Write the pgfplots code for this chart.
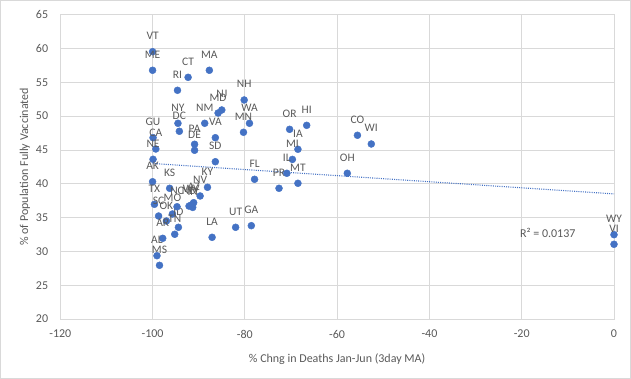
\documentclass[border=0pt]{standalone}
\usepackage{pgfplots}
\pgfplotsset{compat=1.18}
\usepackage{fontspec}
\setmainfont{Carlito}
\definecolor{ptblue}{HTML}{4472C4}
\definecolor{txtgray}{HTML}{595959}
\definecolor{gridgray}{HTML}{D9D9D9}
\begin{document}
\begin{tikzpicture}[x=1pt,y=1pt]
\path[use as bounding box] (0,0) rectangle (631,379);
\draw[gridgray] (0.5,0.5) rectangle (630.5,378.5);
\begin{axis}[
  at={(60.3pt,60pt)}, anchor=south west,
  scale only axis, width=553.7pt, height=304.3pt,
  xmin=-120, xmax=0, ymin=20, ymax=65,
  xtick={-120,-100,-80,-60,-40,-20,0},
  ytick={20,25,30,35,40,45,50,55,60,65},
  major tick length=0pt,
  grid=major,
  major grid style={gridgray, line width=0.75pt},
  axis line style={gridgray, line width=0.75pt},
  /pgf/number format/assume math mode=true,
  tick label style={font=\fontsize{12}{14}\selectfont, text=txtgray},
  yticklabel style={inner sep=0pt, xshift=-12pt},
  xticklabel style={inner sep=0pt, yshift=-11pt},
  xlabel={\% Chng in Deaths Jan-Jun (3day MA)},
  ylabel={\% of Population Fully Vaccinated},
  label style={font=\fontsize{12}{14}\selectfont, text=txtgray},
  xlabel style={at={(axis description cs:0.5,-0.1315)}, anchor=center},
  ylabel style={at={(axis description cs:-0.0638,0.5)}, anchor=center},
  clip=false,
]
\addplot[only marks, mark=*, mark size=3.5pt, mark options={draw=ptblue, fill=ptblue},
  point meta=explicit symbolic,
  nodes near coords,
  every node near coord/.style={anchor=base, yshift=12pt, inner sep=0pt, font=\fontsize{11.5}{13}\selectfont, text=txtgray}]
table[meta=label] {
x y label
-100.0 59.53 VT
-100.0 56.78 ME
-87.7 56.78 MA
-92.3 55.74 CT
-94.6 53.82 RI
-80.15 52.39 NH
-85.0 50.91 NJ
-85.8 50.46 MD
-79.0 48.94 WA
-80.3 47.61 MN
-88.7 48.94 NM
-94.5 48.94 NY
-94.2 47.76 DC
-99.9 46.81 GU
-99.3 45.14 CA
-90.9 45.84 PA
-90.9 44.95 DE
-86.4 46.81 VA
-86.4 43.26 SD
-99.9 43.62 NE
-100.0 40.30 AK
-96.3 39.33 KS
-88.1 39.48 KY
-89.7 38.19 NV
-99.6 36.96 TX
-98.7 35.23 SC
-97.0 34.49 OK
-95.7 35.53 MO
-94.4 33.56 ID
-97.8 31.93 AR
-95.2 32.53 TN
-99.05 29.36 AL
-98.5 27.94 MS
-87.1 32.08 LA
-82.0 33.56 UT
-78.6 33.80 GA
-77.9 40.66 FL
-72.6 39.33 PR
-94.7 36.6 NC
-91.6 36.86 WV
-91.1 37.2 AZ
-91.3 36.5 IN
-92.1 36.7 ND
-70.3 48.05 OR
-66.6 48.64 HI
-68.5 45.10 IA
-69.7 43.60 MI
-70.9 41.55 IL
-68.5 40.07 MT
-55.6 47.17 CO
-52.6 45.88 WI
-57.8 41.55 OH
0.0 32.47 WY
0.0 31.05 VI
};
\addplot[ptblue, line width=1.1pt, dash pattern=on 1pt off 1.2pt] coordinates {(-100,43.0) (0,38.5)};
\node[font=\fontsize{12}{14}\selectfont, text=txtgray] at (axis cs:-14.35,32.76) {R² = 0.0137};
\end{axis}
\end{tikzpicture}
\end{document}
